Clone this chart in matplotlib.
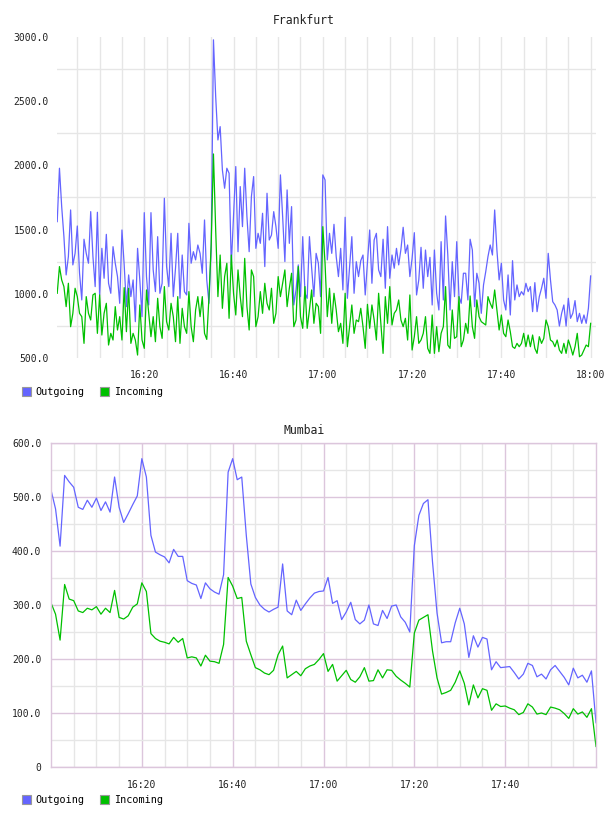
import matplotlib
matplotlib.use("Agg")
import matplotlib.pyplot as plt
import matplotlib.patches as mpatches
from matplotlib.ticker import FuncFormatter, FixedLocator
import numpy as np

# Frankfurt: amostras de 30 s, 16:00:30 .. 18:00:00 (minutos desde 16:00)
FRA_STEP = 0.5
FRA_OUT = [
    1562, 1978, 1679, 1445, 1147, 1290, 1653, 1225, 1315, 1528,
    1160, 952, 1425, 1315, 1238, 1640, 1290, 1056, 1635, 991,
    1354, 1121, 1463, 1082, 1004, 1367, 1238, 1134, 926, 1497,
    1225, 900, 1147, 978, 1108, 783, 1354, 1108, 822, 1632,
    1134, 913, 1632, 1186, 1017, 1445, 1004, 1082, 1744, 1212,
    1056, 1471, 978, 1199, 1471, 965, 1302, 1017, 991, 1549,
    1238, 1328,
    1264, 1380, 1315, 1160, 1575, 1108, 926, 1367,
    2978, 2536, 2198, 2302, 1965, 1822, 1978, 1939, 1225,
    1601, 1991, 1328, 1835, 1523, 1978, 1601,
    1328, 1757, 1913, 1354, 1471, 1393, 1627, 1212, 1783,
    1419, 1458, 1640, 1523, 1354, 1926, 1601, 1251, 1809,
    1393, 1679, 913, 1030, 1225, 978, 1445, 1004,
    965, 1445, 1199, 978, 1315, 1238, 978, 1926, 1887, 1264, 1471,
    1315, 1541, 1290, 1134, 1354, 1030, 1596, 965, 1212,
    1445, 1004, 1250, 1134, 1258, 1302, 991, 1250,
    1497, 1082, 1419, 1471, 1186, 1134, 1425, 1043, 1523,
    1121, 1302, 1199, 1354, 1225, 1347, 1518, 1315, 1380, 1134,
    1276, 1476, 991, 1108, 1362, 1043, 1341,
    1134, 1284, 913, 1341, 1004, 874, 1406, 952,
    1606, 1302, 874, 1250, 978, 1406, 978, 926, 1160,
    1160, 952, 1425, 1341, 900, 1160, 1082, 848, 1069, 1173, 1290, 1380, 1302,
    1653,
    1341, 1108, 1238, 952, 874, 1147, 835, 1258, 952, 1069, 978, 1017,
    991, 1082, 1017, 1056, 861, 1087, 861, 978, 1043, 1121, 965,
    1315,
    1108, 939, 913, 874, 749, 848, 913, 749, 965, 809, 848, 947, 783,
    848, 770, 835, 770, 887, 1139,
]
FRA_IN = [
    1004, 1212, 1108, 1056, 900, 1082, 744, 848, 1043,
    978, 848, 822, 614, 978, 848, 796, 991,
    1004, 692, 991, 679, 848, 926, 601, 692, 640,
    900, 718, 822, 640, 1048, 705, 1043, 614, 692,
    640, 523, 913, 640, 575, 1030, 848, 666,
    822, 627, 965, 744, 653, 1056, 783, 718, 926, 822,
    627, 978, 614, 887, 744, 692, 1017, 744, 627,
    874, 978, 822, 978, 692, 645, 978, 1393, 2089,
    1497, 978, 1302, 887, 1134, 1238, 809, 1302,
    1004, 835, 1186, 978, 822, 1276, 900,
    718, 1186, 1134, 744, 822, 1017, 848, 1082,
    926, 874, 1043, 770, 848, 1134, 978, 1082,
    1186, 900, 1043, 1160, 744, 796, 1212, 822, 731,
    1056, 731, 874, 1030, 770, 926, 900, 692,
    1523, 1238, 822, 1043,
    770, 1004, 874, 705, 770, 614, 1004, 588, 744, 913,
    692, 796, 783, 887, 744, 575, 918, 731, 913, 796,
    640, 1004, 770, 536, 978, 770, 1056, 757, 848, 874,
    952, 796, 744, 809, 640, 991, 562, 666, 822, 614,
    640, 692, 822, 575, 536, 835, 536, 744, 549, 692,
    744, 1056, 601, 575, 874, 653, 666, 978, 588, 640,
    770, 692, 983, 744, 653, 952, 822, 783, 770, 757, 978, 926, 887,
    1030,
    874, 718, 835, 692, 666, 796, 705, 588, 575, 614, 588,
    614, 692, 588, 679, 588, 679, 575, 536, 666, 614, 653,
    796,
    744, 640, 627, 588, 640, 562, 536, 614, 536, 640,
    588, 523, 588, 692, 510, 523, 562, 601, 588, 770,
]

# Mumbai: amostras de 1 min, 16:00 .. 18:00
MUM_OUT = [
    513, 478, 409, 540, 528, 518, 481, 477, 494, 481,
    498, 475, 491, 472, 537, 481, 453, 469, 486, 502,
    571, 537, 429, 398, 393, 389, 378, 403, 390, 390,
    345, 340, 337, 312, 341, 330, 324, 320, 356, 546,
    571, 532, 537, 429, 339, 314, 300, 292, 287, 292,
    296, 376, 289, 282, 309, 290, 302, 313, 322, 325,
    326, 351, 303, 308, 273, 287, 305, 273, 265, 272,
    300, 265, 262, 290, 275, 298, 300, 278, 268, 250,
    410, 466, 488, 495, 380, 285, 230, 232, 232, 267,
    294, 265, 203, 243, 222, 240, 237, 180, 195, 184,
    185, 186, 175, 163, 172, 192, 188, 167, 172, 163,
    180, 188, 177, 166, 152, 183, 165, 170, 157, 178,
    82,
]
MUM_IN = [
    304, 283, 235, 338, 311, 308, 289, 286, 294, 291,
    297, 283, 294, 286, 327, 277, 274, 280, 296, 302,
    341, 325, 247, 238, 233, 231, 228, 240, 231, 238,
    202, 204, 202, 187, 207, 196, 195, 192, 227, 351,
    335, 312, 314, 233, 208, 184, 180, 174, 171, 179,
    208, 224, 165, 171, 177, 169, 182, 187, 190, 199,
    210, 177, 190, 159, 169, 179, 162, 157, 167, 184,
    159, 160, 180, 165, 180, 179, 168, 161, 155, 148,
    248, 272, 277, 282, 215, 165, 135, 138, 142, 157,
    178, 155, 115, 152, 128, 145, 142, 105, 117, 112,
    113, 109, 106, 97, 101, 117, 111, 98, 100, 97,
    111, 109, 106, 99, 90, 108, 98, 102, 92, 108,
    38,
]

COR_OUT = "#6464ff"
COR_IN = "#00c000"
COR_GRADE = "#e6e6e6"
COR_GRADE_MAIOR = "#dcc6dc"
COR_TEXTO = "#222222"

W, H = 608, 816

plt.rcParams["font.family"] = ["DejaVu Sans Mono"]
plt.rcParams["font.size"] = 7


def _eixo(fig, esq, topo, dir_, base):
    """Cria eixos a partir de coordenadas em pixels."""
    return fig.add_axes([esq / W, 1 - base / H, (dir_ - esq) / W, (base - topo) / H])


def _hhmm(v, pos):
    m = int(round(v))
    return f"{16 + m // 60}:{m % 60:02d}"


def _legenda(fig, y_px):
    patches = [
        mpatches.Patch(facecolor=COR_OUT, edgecolor="#999999", lw=0.8, label="Outgoing"),
        mpatches.Patch(facecolor=COR_IN, edgecolor="#999999", lw=0.8, label="Incoming"),
    ]
    fig.legend(
        handles=patches, loc="center left", bbox_to_anchor=(22 / W, 1 - y_px / H),
        ncol=2, frameon=False, fontsize=7.3, handlelength=0.85, handleheight=0.95,
        handletextpad=0.45, columnspacing=1.6, borderaxespad=0, borderpad=0,
    )


fig = plt.figure(figsize=(W / 100, H / 100), dpi=100)

# ---- Frankfurt ----
t_fra = np.arange(1, len(FRA_OUT) + 1) * FRA_STEP
ax = _eixo(fig, 57, 37, 596, 358)
ax.plot(t_fra, FRA_OUT, color=COR_OUT, lw=0.9)
ax.plot(t_fra, FRA_IN, color=COR_IN, lw=0.9)
ax.set_xlim(0.45, 121.2)
ax.set_ylim(500, 3000)
ax.xaxis.set_major_locator(FixedLocator([20, 40, 60, 80, 100, 120]))
ax.xaxis.set_minor_locator(FixedLocator(np.arange(5, 121, 5)))
ax.xaxis.set_major_formatter(FuncFormatter(_hhmm))
ax.yaxis.set_major_locator(FixedLocator(np.arange(500, 3001, 500)))
ax.yaxis.set_minor_locator(FixedLocator(np.arange(750, 3000, 500)))
ax.yaxis.set_major_formatter(FuncFormatter(lambda v, p: f"{v:.1f}"))
ax.grid(axis="x", which="both", color=COR_GRADE, lw=1.0)
ax.grid(axis="y", which="minor", color=COR_GRADE, lw=1.0)
ax.set_axisbelow(True)
for s in ax.spines.values():
    s.set_visible(False)
ax.tick_params(which="both", length=0, colors=COR_TEXTO)
ax.tick_params(axis="x", pad=9)
ax.tick_params(axis="y", pad=6)
fig.text(0.5, 1 - 20 / H, "Frankfurt", ha="center", va="center", fontsize=8.3, color=COR_TEXTO)
_legenda(fig, 392)

# ---- Mumbai ----
t_mum = np.arange(len(MUM_OUT))
ax = _eixo(fig, 51, 443, 596, 767)
ax.plot(t_mum, MUM_OUT, color=COR_OUT, lw=0.9)
ax.plot(t_mum, MUM_IN, color=COR_IN, lw=0.9)
ax.set_xlim(0, 120)
ax.set_ylim(0, 600)
ax.xaxis.set_major_locator(FixedLocator([20, 40, 60, 80, 100]))
ax.xaxis.set_minor_locator(FixedLocator(np.arange(5, 120, 5)))
ax.xaxis.set_major_formatter(FuncFormatter(_hhmm))
ax.yaxis.set_major_locator(FixedLocator(np.arange(0, 601, 100)))
ax.yaxis.set_minor_locator(FixedLocator(np.arange(50, 600, 100)))
ax.yaxis.set_major_formatter(FuncFormatter(lambda v, p: "0" if v == 0 else f"{v:.1f}"))
ax.grid(which="minor", color=COR_GRADE, lw=1.0)
ax.grid(which="major", color=COR_GRADE_MAIOR, lw=1.0)
ax.set_axisbelow(True)
for s in ax.spines.values():
    s.set_color(COR_GRADE_MAIOR)
    s.set_linewidth(1.0)
ax.tick_params(which="both", length=0, colors=COR_TEXTO)
ax.tick_params(axis="x", pad=9)
ax.tick_params(axis="y", pad=7)
fig.text(0.5, 1 - 430 / H, "Mumbai", ha="center", va="center", fontsize=8.3, color=COR_TEXTO)
_legenda(fig, 800)

fig.savefig("out.png", dpi=100)
